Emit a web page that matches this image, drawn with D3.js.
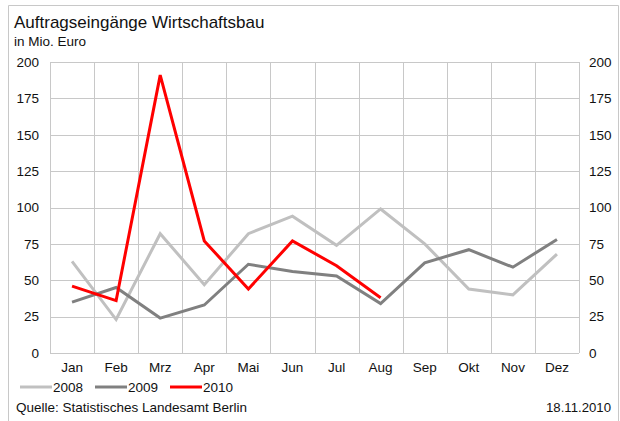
<!DOCTYPE html>
<html>
<head>
<meta charset="utf-8">
<script src="https://cdn.jsdelivr.net/npm/d3@7"></script>
<style>
  html, body { margin: 0; padding: 0; background: #fff; }
  svg { display: block; font-family: "Liberation Sans", Arial, sans-serif; }
</style>
</head>
<body>
<svg id="chart" width="620" height="421"></svg>
<script>
// Monthly order intake, commercial construction (million euro)
const months = ["Jan", "Feb", "Mrz", "Apr", "Mai", "Jun", "Jul", "Aug", "Sep", "Okt", "Nov", "Dez"];
const values2008 = [63, 23, 82, 47, 82, 94, 74, 99, 75, 44, 40, 68];
const values2009 = [35, 45, 24, 33, 61, 56, 53, 34, 62, 71, 59, 78];
const values2010 = [46, 36, 191, 77, 44, 77, 60, 38];
const yTicks = [0, 25, 50, 75, 100, 125, 150, 175, 200];

const seriesList = [
  { name: "2008", values: values2008, color: "#c0c0c0" },
  { name: "2009", values: values2009, color: "#808080" },
  { name: "2010", values: values2010, color: "#ff0000" }
];

const FONT = "Liberation Sans, Arial, sans-serif";
const LABEL_SIZE = 13.5;

const svg = d3.select("#chart");
const plot = { left: 50, right: 579, top: 62, bottom: 353 };

// Outer frame
svg.append("path")
  .attr("d", "M8.5,430 V5.5 H618.5 V430")
  .attr("fill", "none")
  .attr("stroke", "#c8c8c8")
  .attr("stroke-width", 1);

// Titles
svg.append("text").attr("x", 14).attr("y", 28)
  .attr("font-size", 17).attr("fill", "#111")
  .text("Auftragseingänge Wirtschaftsbau");
svg.append("text").attr("x", 14).attr("y", 46)
  .attr("font-size", 13.5).attr("fill", "#111")
  .text("in Mio. Euro");

const x = d3.scaleBand().domain(months).range([plot.left, plot.right]);
const y = d3.scaleLinear().domain([0, 200]).range([plot.bottom, plot.top]);

// Horizontal gridlines
svg.append("g").selectAll("line").data(yTicks).join("line")
  .attr("x1", plot.left).attr("x2", plot.right)
  .attr("y1", d => Math.round(y(d)) + 0.5).attr("y2", d => Math.round(y(d)) + 0.5)
  .attr("stroke", "#c8c8c8").attr("stroke-width", 1);

// Vertical gridlines at band boundaries
const boundaries = months.map(m => x(m)).concat([plot.right]);
svg.append("g").selectAll("line").data(boundaries).join("line")
  .attr("x1", d => Math.round(d) + 0.5).attr("x2", d => Math.round(d) + 0.5)
  .attr("y1", plot.top).attr("y2", plot.bottom)
  .attr("stroke", "#c8c8c8").attr("stroke-width", 1);

// Left and right value axes
const leftAxis = svg.append("g")
  .attr("transform", `translate(${plot.left},0)`)
  .call(d3.axisLeft(y).tickValues(yTicks).tickSize(0).tickPadding(11));
const rightAxis = svg.append("g")
  .attr("transform", `translate(${plot.right},0)`)
  .call(d3.axisRight(y).tickValues(yTicks).tickSize(0).tickPadding(10));
[leftAxis, rightAxis].forEach(g => {
  g.select(".domain").remove();
  g.selectAll("text").attr("font-size", LABEL_SIZE).attr("fill", "#111")
    .attr("font-family", FONT);
});

// Month axis
const bottomAxis = svg.append("g")
  .attr("transform", `translate(0,${plot.bottom})`)
  .call(d3.axisBottom(x).tickSize(0).tickPadding(9));
bottomAxis.select(".domain").remove();
bottomAxis.selectAll("text").attr("font-size", LABEL_SIZE).attr("fill", "#111")
  .attr("font-family", FONT);

// Series lines
const line = d3.line()
  .x((d, i) => x(months[i]) + x.bandwidth() / 2)
  .y(d => y(d));
svg.append("g").selectAll("path").data(seriesList).join("path")
  .attr("d", s => line(s.values))
  .attr("fill", "none")
  .attr("stroke", s => s.color)
  .attr("stroke-width", 3)
  .attr("stroke-linejoin", "miter");

// Legend
const legend = svg.append("g").attr("transform", "translate(20,387)");
const legendItems = legend.selectAll("g").data(seriesList).join("g")
  .attr("transform", (d, i) => `translate(${i * 75},0)`);
legendItems.append("line")
  .attr("x1", 0).attr("x2", 32).attr("y1", 0).attr("y2", 0)
  .attr("stroke", d => d.color).attr("stroke-width", 3);
legendItems.append("text")
  .attr("x", 33).attr("y", 5)
  .attr("font-size", LABEL_SIZE).attr("fill", "#111")
  .text(d => d.name);

// Footer
svg.append("text").attr("x", 16).attr("y", 412)
  .attr("font-size", LABEL_SIZE).attr("fill", "#111")
  .text("Quelle: Statistisches Landesamt Berlin");
svg.append("text").attr("x", 611).attr("y", 412)
  .attr("font-size", 13.2).attr("fill", "#111")
  .attr("text-anchor", "end")
  .text("18.11.2010");
</script>
</body>
</html>
